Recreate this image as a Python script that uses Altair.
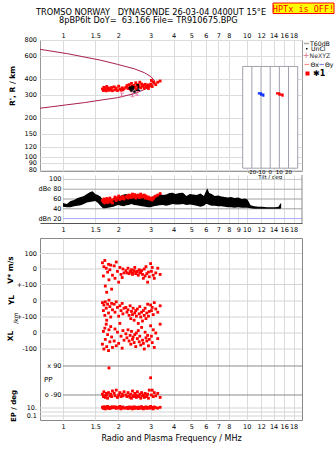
import altair as alt
import numpy as np
import pandas as pd

FONT = "DejaVu Sans"
NB = "\u00a0"
W, H_TOP, H_MID, H_BOT = 262, 131, 48, 182

FREQ_TICKS = [1, 1.5, 2, 3, 4, 5, 6, 7, 8, 10, 12, 14, 16, 18]
MID_TICKS = [1, 1.5, 2, 3, 4, 5, 6, 7, 8, 9, 10, 12, 14, 16, 18]
R_TICKS = [800, 600, 400, 300, 200, 150, 120, 100, 90, 80]
F_DOMAIN = [0.75, 20]
R_DOMAIN = [78, 800]
DB_DOMAIN = [11, 109]
C_DOMAIN = [0, 182]

# model (parabolic layer) curve
CURVE_F = [0.75, 1.06, 1.61, 1.98, 2.44, 2.77, 3.01, 3.16, 3.07, 2.88, 2.44, 1.98, 1.61, 1.31, 0.75]
CURVE_R = [678, 627, 558, 519, 480, 448, 417, 386, 360, 339, 308, 287, 275, 263, 238]

# echoes
ECHO_F = [1.64, 1.66, 1.67, 1.69, 1.70, 1.72, 1.73, 1.75, 1.77, 1.78, 1.80, 1.82, 1.84, 1.86,
          1.90, 1.92, 1.95, 1.98, 2.01, 2.04, 2.07, 2.10, 2.12, 2.15,
          2.20, 2.23, 2.26, 2.29, 2.32, 2.34, 2.36, 2.39, 2.41, 2.44, 2.46, 2.49, 2.51, 2.54,
          2.57, 2.60, 2.62, 2.65, 2.68, 2.71, 2.74, 2.77, 2.80, 2.83, 2.86, 2.89, 2.92, 2.95,
          3.00, 3.03, 3.06, 3.10, 3.14, 3.20, 3.28, 3.38]
ECHO_R = [335, 326, 345, 330, 338, 324, 350, 333, 341, 327, 336, 330, 344, 325,
          348, 330, 340, 326, 352, 334, 328, 342, 330, 337,
          345, 356, 338, 362, 348, 330, 370, 352, 340, 358, 345, 374, 336, 355,
          362, 348, 378, 342, 366, 352, 358, 340, 364, 350, 346, 360, 338, 354,
          365, 390, 350, 380, 372, 362, 378, 386]
ECHO_AMP = [57, 54, 60, 52, 58, 55, 61, 53, 59, 56, 62, 54, 58, 52,
            60, 64, 57, 62, 66, 59, 63, 61, 65, 60,
            64, 66, 62, 68, 65, 63, 67, 70, 64, 66, 69, 62, 67, 65,
            68, 63, 66, 70, 64, 67, 65, 68, 62, 66, 63, 61, 64, 60,
            60, 62, 58, 61, 64, 66, 68, 71]
ECHO_V = [40, -45, 15, 55, -110, 5, -150, -20, 30, -70, -5, 25, -130, -40,
          20, -60, 45, -15, -85, 10, -35, -55, 0, -25,
          -10, -25, 5, -30, -15, -20, -5, -35, -25, -10, 10, -30, -20, -15,
          -40, -5, -25, -20, -10, -35, -60, 0, -45, 15, -30, -85, -20, -50,
          35, -15, 10, -40, -60, -25, 5, -35]
ECHO_YL = [-10, -60, -25, -90, -5, -45, -120, -20, -75, 5, -35, -100, -15, -55,
           -20, -70, -5, -40, -95, -30, -60, -15, -80, -45,
           -40, -70, -55, -90, -30, -110, -65, -85, -45, -120, -75, -60, -95, -50,
           -140, -80, -35, -100, -70, -125, -60, -90, -45, -110, -75, -20, -95, -65,
           -25, -60, -40, -85, -10, -50, -70, -30]
ECHO_XL = [-70, 10, -100, 30, -40, 55, -85, -10, -110, 20, -55, 40, -25, -90,
           -50, 25, -80, 5, -65, 60, -20, -95, 15, -45,
           -5, -30, 20, -50, -15, -70, 10, -40, -25, -60, -10, -85, 0, -35,
           15, -55, -20, -75, 35, -45, -65, -100, 5, -30, -50, -15, -80, -40,
           45, -20, -60, 20, -90, 0, -35, 55]
ECHO_PP = [-85, -100, -70, -95, -105, -80, -90, -110, -75, 78, -95, -85, -100, -65,
           -80, -95, -60, -105, -90, -75, -100, -85, -95, -70,
           -90, -100, -75, -95, -105, -85, -110, -65, -95, -100, -80, -90, -105, -70,
           -95, -100, -85, -110, -75, -95, -90, -105, -80, -100, -95, -85, -110, -60,
           17, -90, -60, -100, -75, -95, -80, -105]
ECHO_EP = [15, 8, 20, 12, 6, 18, 10, 25, 9, 14, 7, 16, 11, 20,
           12, 20, 8, 15, 10, 25, 6, 14, 18, 9,
           10, 14, 7, 18, 12, 9, 16, 6, 11, 20, 8, 13, 15, 10,
           7, 17, 12, 9, 22, 11, 6, 14, 10, 19, 8, 12, 15, 9,
           25, 10, 14, 6, 18, 12, 9, 15]

# black cluster marker and pink error bars
BLACK_F = [2.31, 2.36, 2.40, 2.45]
BLACK_R = [340, 326, 346, 320]
ERR_F = [2.09, 2.39, 2.53]
ERR_LO = [292, 292, 300]
ERR_HI = [312, 312, 321]

# tilt inset
TILT_SPAN = [-30, 30]
TILT_R_SPAN = [82, 500]
TILT_TICKS = [-20, -10, 0, 10, 20]
TILT_Y_T = [-13.5, -10, -10, -7.5, -7.5]
TILT_Y_R = [310, 310, 303, 303, 292]
TILT_X_T = [6.3, 10, 10, 13.5, 13.5]
TILT_X_R = [310, 310, 303, 303, 292]

# amplitude trace envelope
AMP_F = [1.00, 1.05, 1.10, 1.15, 1.20, 1.25, 1.30, 1.35, 1.40, 1.45,
         1.50, 1.55, 1.60, 1.65, 1.70, 1.76, 1.82, 1.88, 1.94, 2.00,
         2.07, 2.14, 2.21, 2.28, 2.36, 2.44, 2.52, 2.60, 2.70, 2.80,
         2.90, 3.00, 3.12, 3.24, 3.36, 3.50, 3.65, 3.80, 3.95, 4.10,
         4.30, 4.50, 4.70, 4.90, 5.10, 5.35, 5.60, 5.85, 6.00, 6.10,
         6.25, 6.45, 6.70, 7.00, 7.30, 7.60, 7.90, 8.20, 8.60, 9.00,
         9.40, 9.80, 10.1, 10.5, 11.0, 11.6, 12.2, 12.9, 13.6, 14.3,
         14.9, 15.2, 15.4]
AMP_LO = [44, 43, 43, 45, 46, 47, 50, 53, 54, 55,
          56, 52, 46, 41, 41, 42, 43, 44, 46, 48,
          46, 45, 47, 48, 50, 48, 47, 46, 45, 44,
          43, 43, 45, 46, 47, 48, 46, 48, 50, 49,
          49, 50, 48, 49, 48, 46, 44, 46, 50, 50,
          48, 46, 46, 45, 45, 44, 43, 43, 42, 43,
          42, 42, 42, 41, 40, 40, 40, 40, 40, 40,
          40, 40, 41]
AMP_HI = [52, 50, 56, 58, 62, 64, 66, 70, 74, 76,
          70, 68, 65, 58, 56, 55, 58, 60, 62, 64,
          67, 69, 70, 68, 67, 65, 64, 67, 68, 66,
          65, 63, 66, 68, 70, 68, 69, 72, 73, 70,
          72, 73, 66, 70, 69, 68, 71, 66, 76, 82,
          72, 70, 66, 67, 65, 64, 63, 64, 62, 63,
          60, 61, 59, 47, 45, 44, 44, 43, 43, 43,
          44, 50, 52]

MID_GRID_DB = [100, 80, 60, 40, 20]
MID_GRID_COL = ["#c8c8c8", "#a8a8a8", "#a0a0a0", "#a0a0a0", "#a8a8ff"]
MID_LABELS = ["100", "dBe 80", "60", "40", "dBn 20"]


# composite axis of the lower panel
def c_v(v): return 151 + 0.155 * np.asarray(v, dtype=float)
def c_yl(v): return 119 + 0.16 * np.asarray(v, dtype=float)
def c_xl(v): return 87 + 0.16 * np.asarray(v, dtype=float)
def c_pp(v): return 39.5 + 0.161 * np.asarray(v, dtype=float)
def c_ep(v): return 8 + 4 * np.log10(np.asarray(v, dtype=float))


def pix_text(text, x, y, size=7, align="left", angle=0, color="black",
             font=FONT, weight="normal"):
    return alt.Chart(pd.DataFrame({"t": [text]})).mark_text(
        align=align, baseline="middle", fontSize=size, angle=angle,
        color=color, font=font, fontWeight=weight
    ).encode(x=alt.value(x), y=alt.value(y), text="t:N")


def pix_rule(x1, x2, y1, y2, color, width=1, opacity=1):
    return alt.Chart(pd.DataFrame({"a": [0]})).mark_rule(
        color=color, strokeWidth=width, opacity=opacity
    ).encode(x=alt.value(x1), x2=alt.value(x2), y=alt.value(y1), y2=alt.value(y2))


def pix_rect(x1, x2, y1, y2, fill, stroke=None):
    kw = dict(fill=fill)
    if stroke:
        kw["stroke"] = stroke
        kw["strokeWidth"] = 1
    return alt.Chart(pd.DataFrame({"a": [0]})).mark_rect(**kw).encode(
        x=alt.value(x1), x2=alt.value(x2), y=alt.value(y1), y2=alt.value(y2))


xS = alt.Scale(type="log", domain=F_DOMAIN, nice=False)

# ---------------- top panel ----------------
X_TOP = alt.X("f:Q", scale=xS, axis=alt.Axis(
    orient="top", values=FREQ_TICKS, labelExpr="'' + datum.value", grid=True, gridColor="#dcdcdc",
    ticks=False, domain=False, labelPadding=2, labelOverlap=False, title=None))
yR = alt.Scale(type="log", domain=R_DOMAIN, nice=False)
Y_TOP = alt.Y("r:Q", scale=yR, axis=alt.Axis(
    values=R_TICKS, labels=False, grid=True, gridColor="#dcdcdc", ticks=False,
    domain=False, title=None))

curve_df = pd.DataFrame({"f": CURVE_F, "r": CURVE_R, "i": range(len(CURVE_F))})
curve = alt.Chart(curve_df).mark_line(color="#a8204e", strokeWidth=1, clip=True).encode(
    x=X_TOP, y=Y_TOP, order="i:Q")

r_lbl = alt.Chart(pd.DataFrame({"r": R_TICKS, "lab": [str(v) for v in R_TICKS]})).mark_text(
    align="right", baseline="middle", fontSize=6.5, font=FONT, color="black").encode(
    x=alt.value(-3), y=Y_TOP, text="lab:N")

echo_df = pd.DataFrame({"f": ECHO_F, "r": ECHO_R, "amp": ECHO_AMP})
echo_top = alt.Chart(echo_df).mark_square(size=8, color="#ff0000", opacity=1).encode(x=X_TOP, y=Y_TOP)

black_df = pd.DataFrame({"f": BLACK_F, "r": BLACK_R})
black_pts = alt.Chart(black_df).mark_square(size=6, color="black", opacity=1).encode(x=X_TOP, y=Y_TOP)
black_lbl = alt.Chart(pd.DataFrame({"f": [2.45], "r": [333], "t": ["✱1"]})).mark_text(
    fontSize=8, fontWeight="bold", color="black", font=FONT).encode(x=X_TOP, y=Y_TOP, text="t:N")

err_df = pd.DataFrame({"f": ERR_F, "r": ERR_LO, "r2": ERR_HI})
err_rule = alt.Chart(err_df).mark_rule(color="#e0609a", strokeWidth=1).encode(x=X_TOP, y=Y_TOP, y2="r2:Q")
err_lo = alt.Chart(err_df).mark_tick(color="#e0609a", orient="horizontal", size=4, thickness=1).encode(x=X_TOP, y=Y_TOP)
err_hi = alt.Chart(err_df.assign(r=ERR_HI)).mark_tick(color="#e0609a", orient="horizontal", size=4, thickness=1).encode(x=X_TOP, y=Y_TOP)

TITLE1 = f"TROMSO NORWAY{NB*3}DYNASONDE 26-03-04 0400UT 15°E"
TITLE2 = f"8pBP6It DoY={NB*2}63.166 File={NB}TR910675.BPG"

deco = [
    pix_rect(-39, -38, -39, -38, "white"),
    pix_text(TITLE1, -4, -27, size=8.2),
    pix_text(TITLE2, 19, -19, size=8.2),
    pix_rect(233, 294, -37, -26.5, "#ffff00", "#ff0000"),
    pix_text("HPTx is OFF!", 263.5, -31.5, size=8.5, align="center", color="#ff0000",
             font="DejaVu Sans Mono"),
    # legend
    pix_rule(264, 269, 3.5, 3.5, "#aaaaaa", 1.5),
    pix_text("T60dB", 270, 3.5, size=6.2),
    pix_rect(266, 267.5, 8, 9.5, "black"),
    pix_text("UnCl", 271, 8.8, size=6.2),
    pix_text("+", 266, 15.5, size=8, align="center", color="#e07090"),
    pix_text("NeXYZ", 269.5, 15.5, size=6.2, color="#333333"),
    pix_rule(264.5, 269, 24.5, 24.5, "#f09090", 1.2),
    pix_text("Θx", 270.5, 24.5, size=6.2),
    pix_rule(279.5, 284, 24.5, 24.5, "#8888ee", 1.2),
    pix_text("Θy", 285, 24.5, size=6.2),
    pix_rect(265.5, 269.5, 31.5, 35.5, "#ff0000"),
    pix_text("✱1", 273, 33.5, size=8, weight="bold"),
    pix_text("R', R / km", -27, 46, size=7.5, align="center", angle=270, weight="bold"),
]

top_main = alt.layer(curve, echo_top, err_rule, err_lo, err_hi, black_pts, black_lbl, *deco)

X_TILT = alt.X("tilt:Q", scale=alt.Scale(domain=TILT_SPAN, range=[202.7, 257.7], nice=False, zero=False), axis=None)
box = alt.Chart(pd.DataFrame({"tilt": [TILT_SPAN[0]], "tilt2": [TILT_SPAN[1]],
                              "r": [TILT_R_SPAN[1]], "r2": [TILT_R_SPAN[0]]})).mark_rect(
    fill="white", stroke="#a0a0b0", strokeWidth=1).encode(x=X_TILT, x2="tilt2:Q", y=Y_TOP, y2="r2:Q")
tl_df = pd.DataFrame({"tilt": TILT_TICKS, "r": [TILT_R_SPAN[1]] * 5, "r2": [TILT_R_SPAN[0]] * 5,
                      "lab": [str(t) for t in TILT_TICKS]})
tilt_lines = alt.Chart(tl_df).mark_rule(color="#a0a0b0", strokeWidth=1).encode(x=X_TILT, y=Y_TOP, y2="r2:Q")
tilt_lbls = alt.Chart(tl_df).mark_text(fontSize=5.5, font=FONT, baseline="middle").encode(
    x=X_TILT, y=alt.value(H_TOP + 1), text="lab:N")
tilt_title = alt.Chart(pd.DataFrame({"tilt": [0], "t": ["Tilt / deg"]})).mark_text(
    fontSize=5.5, font=FONT, baseline="middle").encode(x=X_TILT, y=alt.value(H_TOP + 5.5), text="t:N")
ty_df = pd.DataFrame({"tilt": TILT_Y_T, "r": TILT_Y_R, "i": range(len(TILT_Y_T))})
tx_df = pd.DataFrame({"tilt": TILT_X_T, "r": TILT_X_R, "i": range(len(TILT_X_T))})
tilt_y = alt.Chart(ty_df).mark_line(color="#1030ff", strokeWidth=2.2).encode(x=X_TILT, y=Y_TOP, order="i:Q")
tilt_x = alt.Chart(tx_df).mark_line(color="#ff0000", strokeWidth=2.2).encode(x=X_TILT, y=Y_TOP, order="i:Q")
inset = alt.layer(box, tilt_lines, tilt_y, tilt_x, tilt_lbls, tilt_title)

top = alt.layer(top_main, inset, r_lbl).resolve_scale(x="independent").properties(
    width=W, height=H_TOP, view=alt.ViewBackground(stroke="#999999"))

# ---------------- middle panel ----------------
X_MID = alt.X("f:Q", scale=xS, axis=alt.Axis(
    orient="bottom", values=MID_TICKS, labelExpr="'' + datum.value", grid=True, gridColor="#dcdcdc",
    ticks=False, domain=True, domainColor="#555555", labelPadding=3, labelOverlap=False, title=None))
Y_MID = alt.Y("db:Q", scale=alt.Scale(domain=DB_DOMAIN, nice=False, zero=False), axis=None)

mg_df = pd.DataFrame({"f": [1.0] * 5, "f2": [F_DOMAIN[1]] * 5, "db": MID_GRID_DB,
                      "col": MID_GRID_COL, "lab": MID_LABELS})
mid_grid = alt.Chart(mg_df).mark_rule(strokeWidth=1).encode(
    x=X_MID, x2="f2:Q", y=Y_MID, color=alt.Color("col:N", scale=None))
mid_lbl = alt.Chart(mg_df).mark_text(align="right", dx=-1.5, fontSize=6.5, font=FONT).encode(
    x=X_MID, y=Y_MID, text="lab:N")
band_df = pd.DataFrame({"f": AMP_F, "db": AMP_LO, "db2": AMP_HI})
band = alt.Chart(band_df).mark_area(color="black", opacity=1).encode(x=X_MID, y=Y_MID, y2="db2:Q")
amp_pts = alt.Chart(pd.DataFrame({"f": ECHO_F, "db": ECHO_AMP})).mark_square(
    size=8, color="#ff0000", opacity=1).encode(x=X_MID, y=Y_MID)
mid_edge = pix_rule(W, W, 0, H_MID, "#888888")
middle = alt.layer(mid_grid, band, amp_pts, mid_lbl, mid_edge).properties(width=W, height=H_MID)

spacer = pix_rule(0, 1, 0, 1, "white", 1, 0).properties(width=W, height=7)

# ---------------- bottom panel ----------------
X_BOT = alt.X("f:Q", scale=xS, axis=alt.Axis(
    orient="bottom", values=FREQ_TICKS, labelExpr="'' + datum.value", grid=True, gridColor="#dcdcdc",
    ticks=False, domain=False, labelPadding=3.5, labelOverlap=False,
    title="Radio and Plasma Frequency / MHz",
    titleFontSize=8, titleFontWeight="normal", titlePadding=4, titleFont=FONT))
Y_BOT = alt.Y("c:Q", scale=alt.Scale(domain=C_DOMAIN, nice=False, zero=False), axis=None)

pts = pd.concat([
    pd.DataFrame({"f": ECHO_F, "c": c_v(ECHO_V)}),
    pd.DataFrame({"f": ECHO_F, "c": c_yl(ECHO_YL)}),
    pd.DataFrame({"f": ECHO_F, "c": c_xl(ECHO_XL)}),
    pd.DataFrame({"f": ECHO_F, "c": c_pp(ECHO_PP)}),
    pd.DataFrame({"f": ECHO_F, "c": c_ep(ECHO_EP)}),
])
bot_pts = alt.Chart(pts).mark_square(size=8, color="#ff0000", opacity=1).encode(x=X_BOT, y=Y_BOT)

OUT_LABELS = ["100", "0", "+-100", "0", "+-100", "0", "-100", "10.", "0.1"]
OUT_C = list(np.concatenate([c_v([100, 0, -100]), c_yl([0, -100]), c_xl([0, -100]), c_ep([10, 0.1])]))
IN_LABELS = ["x 90", "o -90"]
IN_C = list(c_pp([90, -90]))

grid_c = list(np.concatenate([c_v([100, 0, -100]), c_yl([0]), c_xl([100, 0, -100]), c_ep([10, 1, 0.1])]))
hg_df = pd.DataFrame({"f": [F_DOMAIN[0]] * len(grid_c), "f2": [F_DOMAIN[1]] * len(grid_c),
                      "c": grid_c, "col": ["#d4d4d4"] * len(grid_c)})
hg2_df = pd.DataFrame({"f": [1.0, 1.0], "f2": [F_DOMAIN[1]] * 2, "c": IN_C, "col": ["#8a8a8a"] * 2})
hgrid = alt.Chart(pd.concat([hg_df, hg2_df])).mark_rule(strokeWidth=1).encode(
    x=X_BOT, x2="f2:Q", y=Y_BOT, color=alt.Color("col:N", scale=None))
out_lbl = alt.Chart(pd.DataFrame({"c": OUT_C, "lab": OUT_LABELS})).mark_text(
    align="right", fontSize=6.5, font=FONT, baseline="middle").encode(
    x=alt.value(-3), y=Y_BOT, text="lab:N")
in_lbl = alt.Chart(pd.DataFrame({"f": [1.0, 1.0], "c": IN_C, "lab": IN_LABELS})).mark_text(
    align="right", dx=-1.5, fontSize=6.5, font=FONT, baseline="middle").encode(
    x=X_BOT, y=Y_BOT, text="lab:N")
bot_titles = [
    pix_text("V* m/s", -29, 32, size=7.5, align="center", angle=270, weight="bold"),
    pix_text("YL", -28, 62, size=7.5, align="center", angle=270, weight="bold"),
    pix_text("/km", -24, 80, size=6, align="center", angle=270),
    pix_text("XL", -29, 98, size=7.5, align="center", angle=270, weight="bold"),
    pix_text("PP", 4, 142, size=7),
    pix_text("EP / deg", -26, 168, size=7, align="center", angle=270, weight="bold"),
]
bottom = alt.layer(hgrid, bot_pts, in_lbl, *bot_titles, out_lbl).properties(
    width=W, height=H_BOT, view=alt.ViewBackground(stroke="#888888"))

chart = alt.vconcat(top, middle, spacer, bottom, spacing=4, bounds="flush").properties(
    padding=0, background="white"
).configure_view(stroke=None).configure_axis(
    labelFont=FONT, labelFontSize=6.5, labelColor="black"
)

chart.save("out.html", embed_options={"renderer": "svg", "actions": False})
